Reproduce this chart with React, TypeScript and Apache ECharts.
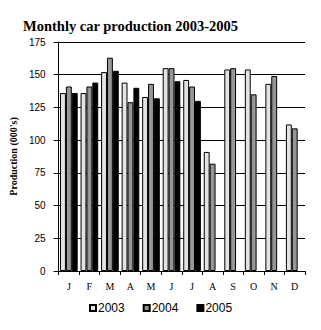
import React, { useEffect, useRef } from "react";
import * as echarts from "echarts";

const months = ["J", "F", "M", "A", "M", "J", "J", "A", "S", "O", "N", "D"];
const y2003 = [136, 136, 152, 144, 133, 155, 146, 91, 154, 154, 143, 112];
const y2004 = [141, 141, 163, 129, 143, 155, 141, 82, 155, 135, 149, 109];
const y2005 = [136, 144, 153, 140, 132, 145, 130, null, null, null, null, null];
const yTicks = { min: 0, max: 175, interval: 25 };

export default function App() {
  const ref = useRef<HTMLDivElement>(null);
  useEffect(() => {
    const chart = echarts.init(ref.current!, null, { renderer: "svg" });
    const barStyle = (c: string) => ({ color: c, borderColor: "#000", borderWidth: 1 });
    chart.setOption({
      animation: false,
      backgroundColor: "#fff",
      title: {
        text: "Monthly car production 2003-2005",
        left: 18,
        top: 13,
        textStyle: { fontFamily: "Liberation Serif", fontWeight: "bold", fontSize: 14.5, color: "#000" },
      },
      legend: {
        bottom: 11,
        left: 84,
        itemWidth: 6,
        itemHeight: 6,
        itemGap: 18,
        icon: "rect",
        textStyle: { fontFamily: "Liberation Sans", fontSize: 12, color: "#000", padding: [0, 0, 0, -3] },
        data: ["2003", "2004", "2005"],
      },
      grid: { left: 45, right: 16, top: 42, bottom: 59 },
      xAxis: {
        type: "category",
        data: months,
        axisLine: { lineStyle: { color: "#000", width: 1 } },
        axisTick: { show: true, length: 4, inside: false, lineStyle: { color: "#000" } },
        axisLabel: { fontFamily: "Liberation Serif", fontSize: 10, color: "#000", margin: 10 },
      },
      yAxis: {
        type: "value",
        min: yTicks.min,
        max: yTicks.max,
        interval: yTicks.interval,
        name: "Production (000's)",
        nameLocation: "middle",
        nameGap: 33,
        nameTextStyle: { fontFamily: "Liberation Serif", fontWeight: "bold", fontSize: 10, color: "#000" },
        axisLine: { show: true, lineStyle: { color: "#000", width: 1 } },
        axisTick: { show: true, length: 5, lineStyle: { color: "#000" } },
        axisLabel: { fontFamily: "Liberation Sans", fontSize: 10, color: "#000", margin: 13 },
        splitLine: { show: true, lineStyle: { color: "#000", width: 1 } },
      },
      series: [
        { name: "2003", type: "bar", data: y2003, barGap: "0%", barCategoryGap: "14%", itemStyle: barStyle("#e3e3e3") },
        { name: "2004", type: "bar", data: y2004, barGap: "0%", barCategoryGap: "14%", itemStyle: barStyle("#969696") },
        { name: "2005", type: "bar", data: y2005, barGap: "0%", barCategoryGap: "14%", itemStyle: barStyle("#000000") },
      ],
    });
    return () => chart.dispose();
  }, []);
  return <div ref={ref} style={{ position: "fixed", left: 0, top: 0, width: 321, height: 330 }} />;
}
